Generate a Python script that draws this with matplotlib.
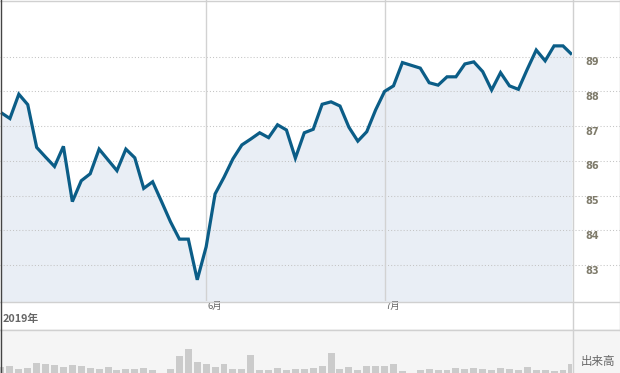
import matplotlib
matplotlib.use("Agg")
import matplotlib.pyplot as plt
from matplotlib.lines import Line2D
from matplotlib.patches import Rectangle
import numpy as np

# ---- data ----
prices = [87.39, 87.22, 87.92, 87.62, 86.39, 86.11, 85.84, 86.42, 84.83, 85.43,
          85.63, 86.34, 86.03, 85.72, 86.34, 86.09, 85.21, 85.40, 84.83, 84.25,
          83.75, 83.75, 82.58, 83.53, 85.05, 85.53, 86.06, 86.46, 86.63, 86.81,
          86.67, 87.04, 86.89, 86.08, 86.81, 86.91, 87.63, 87.70, 87.58, 86.97,
          86.57, 86.84, 87.47, 88.00, 88.16, 88.83, 88.75, 88.67, 88.25, 88.18,
          88.42, 88.42, 88.79, 88.85, 88.57, 88.04, 88.54, 88.16, 88.06, 88.64,
          89.19, 88.88, 89.31, 89.31, 89.06]
volumes = [6, 7, 4.3, 5.3, 10, 9, 8, 6.3, 8, 7,
           5.3, 4, 6, 3, 4, 4, 5, 3, 0, 4,
           17, 24, 11, 9, 6, 9, 4, 4, 18, 3,
           3, 5, 3, 4, 4, 4.7, 7, 20, 4, 6,
           3, 7, 7, 7, 9, 2, 0, 3, 3.7, 3,
           3, 5, 4, 5, 4, 3, 5, 4, 3, 6,
           3, 3, 2.3, 3, 9]
yticks = [83, 84, 85, 86, 87, 88, 89]
month_idx = [23, 43]
month_labels = ["6月", "7月"]
year_label = "2019年"
volume_label = "出来高"

W, H = 620, 373
fig = plt.figure(figsize=(W / 100, H / 100), dpi=100)
fig.patch.set_facecolor("white")

def fx(px):
    return px / W

def fy(py):
    return 1 - py / H

cjk = ["Noto Sans CJK JP", "DejaVu Sans"]

# volume panel background
fig.add_artist(Rectangle((0, 0), 1, fy(329), transform=fig.transFigure,
                         facecolor="#f5f5f5", edgecolor="none", zorder=0))

# ---- main price axes ----
ax = fig.add_axes([0, fy(301), fx(572), 301 / H])
ax.set_facecolor("none")
x = np.arange(len(prices))
ax.set_xlim(-0.11, len(prices) - 1 + 0.01)
ax.set_ylim(81.97, 90.63)
for s in ax.spines.values():
    s.set_visible(False)
ax.set_xticks([])
ax.set_yticks([])

line_color = "#0b5d87"
ax.fill_between(x, prices, 81.0, color="#e9eef5", zorder=1, linewidth=0)
for t in yticks:
    ax.axhline(t, xmin=0, xmax=W / 572, color="#c4c4c4", lw=0.75,
               linestyle=(0, (1, 2)), zorder=2, clip_on=False)
for mi in month_idx:
    ax.axvline(mi, color="#d2d2d2", lw=1.0, zorder=2)
ax.plot(x, prices, color=line_color, lw=2.3, zorder=3,
        solid_joinstyle="miter", solid_capstyle="butt")

import matplotlib.transforms as mtrans
lab_tr = mtrans.blended_transform_factory(ax.transAxes, ax.transData)
for t in yticks:
    ax.text(1 + 13 / 572, t, str(t), transform=lab_tr + mtrans.ScaledTranslation(0, -5.5 / 100, fig.dpi_scale_trans),
            ha="left", va="center", fontsize=7, fontweight="bold",
            color="#7f7b6b", clip_on=False)

# month labels under the main axes
mon_tr = mtrans.blended_transform_factory(ax.transData, fig.transFigure)
for mi, ml in zip(month_idx, month_labels):
    ax.text(mi, fy(302), ml, transform=mon_tr + mtrans.ScaledTranslation(1.5 / 100, 0, fig.dpi_scale_trans),
            ha="left", va="top", fontsize=6.8, color="#666666",
            family=cjk, clip_on=False)

fig.text(fx(2.5), fy(318.5), year_label, ha="left", va="center", fontsize=7.8,
         fontweight="bold", color="#666666", family=cjk)

# ---- volume axes ----
vax = fig.add_axes([0, 0, fx(572), 44 / H])
vax.set_facecolor("none")
vax.set_xlim(-0.11, len(prices) - 1 + 0.01)
vax.set_ylim(0, 44)
vax.bar(x, volumes, width=0.78, color="#cbcbcb", linewidth=0)
for s in vax.spines.values():
    s.set_visible(False)
vax.set_xticks([])
vax.set_yticks([])

fig.text(fx(597.5), fy(361), volume_label, ha="center", va="center",
         fontsize=8.3, color="#666666", family=cjk)

# ---- frame lines ----
def hline(py, x0, x1, c="#d0d0d0"):
    fig.add_artist(Line2D([fx(x0), fx(x1)], [fy(py), fy(py)], transform=fig.transFigure,
                          color=c, lw=1.0, zorder=5))

def vline(px, y0, y1, c="#d0d0d0"):
    fig.add_artist(Line2D([fx(px), fx(px)], [fy(y0), fy(y1)], transform=fig.transFigure,
                          color=c, lw=1.0, zorder=5))

hline(0.5, 0, W)
hline(301.5, 0, W)
hline(329.5, 0, W)
vline(572.5, 0, H)
vline(619.5, 0, 329.5)
vline(0.5, 0, H, c="#444444")

fig.savefig("out.png", dpi=100, facecolor="white")
